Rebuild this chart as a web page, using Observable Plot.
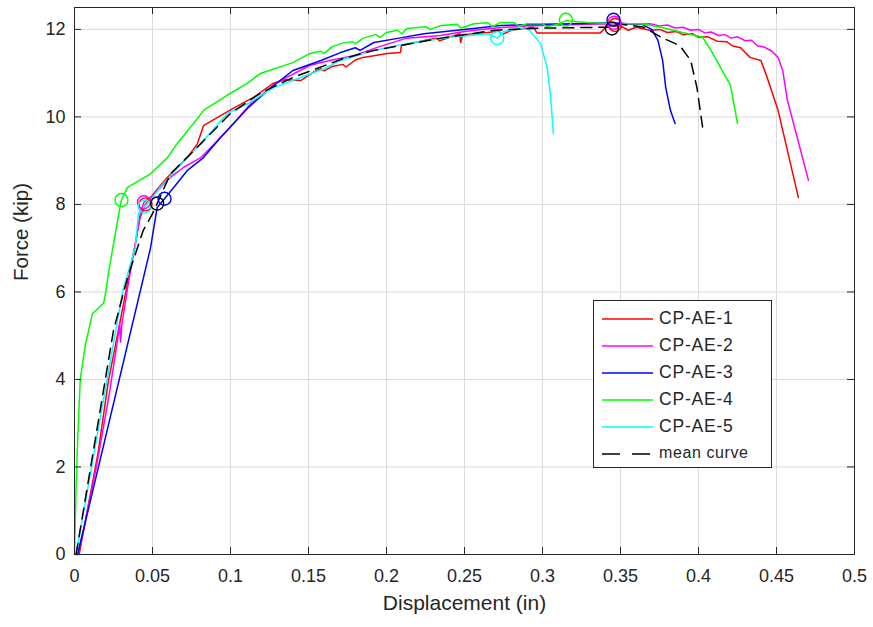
<!DOCTYPE html>
<html><head><meta charset="utf-8">
<script src="https://cdn.jsdelivr.net/npm/d3@7"></script>
<script src="https://cdn.jsdelivr.net/npm/@observablehq/plot@0.6"></script>
<style>
body{margin:0;background:#fff;}
#wrap{position:relative;width:873px;height:627px;}
#legend{position:absolute;left:593px;top:300px;width:177px;height:166px;border:1px solid #262626;background:#fff;font-family:"Liberation Sans",Arial,sans-serif;color:#262626;}
.row{position:absolute;left:0;height:20px;}
.row svg{position:absolute;left:8px;top:4px;}
.row span{position:absolute;left:65px;top:-2px;font-size:17.5px;letter-spacing:0.8px;white-space:nowrap;}
</style></head><body><div id="wrap"><div id="legend"></div></div>
<script>
const xTicks = [0,0.05,0.1,0.15,0.2,0.25,0.3,0.35,0.4,0.45,0.5];
const yTicks = [0,2,4,6,8,10,12];
const seriesNames = ["CP-AE-1","CP-AE-2","CP-AE-3","CP-AE-4","CP-AE-5"];
const seriesColors = ["#ff0000","#ff00ff","#0000ff","#00ff00","#00ffff"];
const meanName = "mean curve";

const cpae1 = [[0.003,0],[0.007,0.78],[0.015,2.3],[0.0218,3.98],[0.028,5.1],[0.034,6.2],[0.039,7.1],[0.042,7.7],[0.0455,8.0],[0.052,8.3],[0.0596,8.62],[0.066,8.85],[0.0724,9.07],[0.0788,9.39],[0.0827,9.8],[0.0917,9.99],[0.102,10.2],[0.115,10.45],[0.1276,10.77],[0.135,10.85],[0.145,10.83],[0.153,11.02],[0.158,11.1],[0.16,11.05],[0.165,11.15],[0.172,11.2],[0.174,11.14],[0.18,11.3],[0.185,11.36],[0.2006,11.45],[0.209,11.47],[0.2095,11.63],[0.225,11.75],[0.232,11.8],[0.234,11.74],[0.247,11.9],[0.2475,11.7],[0.249,11.88],[0.265,11.93],[0.272,11.96],[0.274,11.88],[0.28,11.98],[0.294,12.05],[0.2965,11.92],[0.337,11.92],[0.342,12.09],[0.35,12.08],[0.355,11.98],[0.36,12.05],[0.369,11.98],[0.375,12.0],[0.38,11.93],[0.386,11.95],[0.39,11.88],[0.396,11.9],[0.40,11.82],[0.406,11.83],[0.412,11.73],[0.418,11.72],[0.422,11.62],[0.427,11.58],[0.433,11.36],[0.44,11.29],[0.444,10.9],[0.451,10.15],[0.464,8.16]];
const cpae2 = [[0.002,0],[0.006,0.6],[0.014,2.0],[0.022,3.6],[0.028,5.0],[0.029,5.3],[0.0295,4.85],[0.0305,5.3],[0.035,6.3],[0.039,7.1],[0.042,7.75],[0.0445,8.05],[0.05,8.2],[0.0615,8.62],[0.07,8.85],[0.081,9.07],[0.09,9.4],[0.098,9.69],[0.113,10.3],[0.13,10.79],[0.151,11.18],[0.165,11.3],[0.179,11.4],[0.195,11.6],[0.213,11.8],[0.2346,11.86],[0.25,11.95],[0.2667,12.02],[0.29,12.08],[0.31,12.1],[0.33,12.12],[0.346,12.13],[0.36,12.12],[0.369,12.13],[0.375,12.08],[0.38,12.1],[0.385,12.03],[0.39,12.05],[0.395,11.98],[0.40,12.0],[0.404,11.92],[0.408,11.94],[0.413,11.86],[0.417,11.88],[0.421,11.8],[0.425,11.83],[0.43,11.74],[0.434,11.75],[0.438,11.62],[0.442,11.6],[0.447,11.5],[0.451,11.36],[0.454,11.06],[0.457,10.38],[0.4705,8.55]];
const cpae3 = [[0.002,0],[0.0487,7.0],[0.053,7.93],[0.0577,8.13],[0.065,8.45],[0.0724,8.78],[0.0827,9.07],[0.0936,9.53],[0.111,10.2],[0.126,10.67],[0.14,11.06],[0.158,11.29],[0.1705,11.47],[0.18,11.58],[0.183,11.52],[0.192,11.7],[0.208,11.8],[0.224,11.9],[0.2455,11.98],[0.273,12.09],[0.30,12.12],[0.32,12.13],[0.3455,12.15],[0.355,12.13],[0.363,12.13],[0.37,12.0],[0.374,11.75],[0.377,11.29],[0.379,10.67],[0.382,10.15],[0.385,9.85]];
const cpae4 = [[0,0],[0.001,1.5],[0.002,2.6],[0.0037,4.0],[0.007,4.8],[0.0115,5.5],[0.0186,5.74],[0.0199,5.97],[0.0212,6.3],[0.025,7.1],[0.0295,8.0],[0.0301,8.1],[0.034,8.39],[0.0487,8.7],[0.0596,9.07],[0.065,9.35],[0.0763,9.85],[0.0827,10.15],[0.098,10.5],[0.111,10.77],[0.119,10.99],[0.14,11.24],[0.151,11.45],[0.158,11.5],[0.16,11.45],[0.165,11.6],[0.171,11.68],[0.178,11.72],[0.18,11.67],[0.185,11.8],[0.193,11.88],[0.196,11.82],[0.2,11.93],[0.207,11.98],[0.21,11.9],[0.213,12.02],[0.225,12.06],[0.228,12.0],[0.235,12.09],[0.245,12.12],[0.248,12.03],[0.256,12.13],[0.265,12.15],[0.268,12.06],[0.273,12.16],[0.282,12.15],[0.285,12.07],[0.29,12.13],[0.3,12.13],[0.303,12.06],[0.311,12.13],[0.315,12.2],[0.33,12.15],[0.35,12.13],[0.363,12.13],[0.376,12.05],[0.393,11.9],[0.4026,11.82],[0.408,11.52],[0.4205,10.72],[0.425,9.85]];
const cpae5 = [[0.001,0],[0.031,6.03],[0.039,7.02],[0.041,7.79],[0.045,7.95],[0.05,8.15],[0.055,8.4],[0.068,8.9],[0.081,9.39],[0.098,10.08],[0.111,10.3],[0.1276,10.67],[0.145,10.9],[0.16,11.1],[0.1705,11.29],[0.19,11.5],[0.213,11.68],[0.241,11.82],[0.265,11.9],[0.271,11.8],[0.275,11.95],[0.29,12.05],[0.2987,11.68],[0.303,11.13],[0.305,10.54],[0.307,9.62]];
const meanCurve = [[0.001,0],[0.025,5.12],[0.034,6.33],[0.044,7.4],[0.05,7.79],[0.053,8.02],[0.0615,8.7],[0.081,9.39],[0.1,10.08],[0.119,10.54],[0.14,10.9],[0.172,11.33],[0.192,11.52],[0.235,11.8],[0.269,11.98],[0.30,12.03],[0.3445,12.05],[0.348,12.13],[0.365,12.05],[0.376,11.82],[0.388,11.63],[0.395,11.29],[0.399,10.67],[0.4026,9.77]];

// circle markers (yield point and peak) : [name, x, y]
const markers = [
  ["CP-AE-1",0.0455,8.0],["CP-AE-1",0.3465,12.1],
  ["CP-AE-2",0.0445,8.05],["CP-AE-2",0.346,12.15],
  ["CP-AE-3",0.0577,8.13],["CP-AE-3",0.3455,12.22],
  ["CP-AE-4",0.0301,8.1],["CP-AE-4",0.315,12.22],
  ["CP-AE-5",0.045,7.95],["CP-AE-5",0.271,11.8],
  [meanName,0.053,8.02],[meanName,0.3445,12.02]
];

const seriesData = [cpae1,cpae2,cpae3,cpae4,cpae5];
const rows = seriesData.flatMap((arr,i)=>arr.map(([x,y])=>({name:seriesNames[i],x,y})));
const meanRows = meanCurve.map(([x,y])=>({x,y}));
const markerRows = markers.map(([name,x,y])=>({name,x,y}));
const allNames = [...seriesNames, meanName];
const allColors = [...seriesColors, "#000000"];

const font = "'Liberation Sans', Arial, sans-serif";
const ink = "#262626";
const tickLen = 7;

const chart = Plot.plot({
  width: 873, height: 627,
  marginLeft: 74, marginRight: 19, marginTop: 7, marginBottom: 73,
  style: {fontFamily: font, fontSize: "18px", color: ink, background: "transparent"},
  x: {domain: [0, 0.5]},
  y: {domain: [0, 12.5]},
  color: {domain: allNames, range: allColors},
  marks: [
    Plot.gridX(xTicks, {stroke: "#dcdcdc", strokeOpacity: 1}),
    Plot.gridY(yTicks, {stroke: "#dcdcdc", strokeOpacity: 1}),
    Plot.line(rows, {x: "x", y: "y", z: "name", stroke: "name", strokeWidth: 1.5}),
    Plot.line(meanRows, {x: "x", y: "y", stroke: "#000", strokeWidth: 1.5, strokeDasharray: "11,7"}),
    Plot.dot(markerRows, {x: "x", y: "y", r: 6.5, stroke: "name", strokeWidth: 1.4, fill: "none"}),
    Plot.tickX(xTicks, {x: d => d, stroke: ink, insetTop: 547 - tickLen}),
    Plot.tickX(xTicks, {x: d => d, stroke: ink, insetBottom: 547 - tickLen}),
    Plot.tickY(yTicks, {y: d => d, stroke: ink, insetRight: 780 - tickLen}),
    Plot.tickY(yTicks, {y: d => d, stroke: ink, insetLeft: 780 - tickLen}),
    Plot.frame({stroke: ink, strokeWidth: 1}),
    Plot.axisX(xTicks, {tickSize: 0, tickPadding: 15, tickFormat: d => String(d), label: null, fill: ink, fontSize: 18}),
    Plot.axisY(yTicks, {tickSize: 0, tickPadding: 9, tickFormat: d => String(d), label: null, fill: ink, fontSize: 18}),
    Plot.text(["Displacement (in)"], {frameAnchor: "bottom", dy: 55, fill: ink, fontSize: 21}),
    Plot.text(["Force (kip)"], {frameAnchor: "left", dx: -53, rotate: -90, fill: ink, fontSize: 20.5})
  ]
});
document.getElementById("wrap").prepend(chart);

// legend built from the same names/colors
const legend = document.getElementById("legend");
allNames.forEach((n, i) => {
  const row = document.createElement("div");
  row.className = "row";
  row.style.top = (9 + i * 27) + "px";
  row.style.width = "177px";
  const dashed = n === meanName;
  row.innerHTML = `<svg width="54" height="10"><line x1="0" y1="5" x2="51" y2="5" stroke="${allColors[i]}" stroke-width="1.5" ${dashed ? 'stroke-dasharray="18,12"' : ''}/></svg><span style="${dashed ? 'font-size:16px;letter-spacing:0.6px;top:-1px' : ''}">${n}</span>`;
  legend.appendChild(row);
});
</script>
</body></html>
